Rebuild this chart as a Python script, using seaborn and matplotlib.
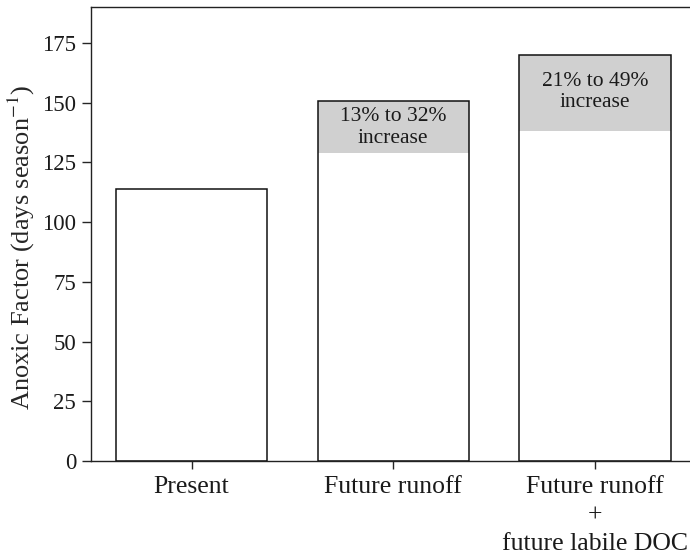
import matplotlib
matplotlib.use("Agg")
import matplotlib.pyplot as plt
import seaborn as sns

# scenarios and anoxic factor (days per season)
scenarios = ["Present", "Future runoff", "Future runoff\n+\nfuture labile DOC"]
low_values = [114, 129, 138]      # lower end of the projected range
high_values = [114, 150.5, 170]   # upper end of the projected range
range_labels = ["", "13% to 32%\nincrease", "21% to 49%\nincrease"]
y_ticks = [0, 25, 50, 75, 100, 125, 150, 175]

sns.set_style("ticks")
plt.rcParams["font.family"] = ["Liberation Serif", "DejaVu Serif"]
plt.rcParams["mathtext.fontset"] = "stix"

fig = plt.figure(figsize=(6.9, 5.57), dpi=100)
ax = fig.add_axes([0.1314, 0.1724, 0.877, 0.815])

# grey = full range, white = lower end, then outline on top
sns.barplot(x=scenarios, y=high_values, color="#d0d0d0", saturation=1,
            width=0.75, edgecolor="none", ax=ax)
sns.barplot(x=scenarios, y=low_values, color="white", saturation=1,
            width=0.75, edgecolor="none", ax=ax)
sns.barplot(x=scenarios, y=high_values, color="#111111", fill=False,
            width=0.75, linewidth=1.1, ax=ax)

for i, lab in enumerate(range_labels):
    if lab:
        ax.text(i, [0, 139.7, 154.4][i], lab, ha="center", va="center",
                fontsize=15.5, color="#1a1a1a", linespacing=1.2)

ax.set_ylim(0, 190)
ax.set_xlim(-0.5, 2.5)
ax.set_yticks(y_ticks)
ax.set_xticks(range(len(scenarios)))
ax.set_xticklabels(scenarios, linespacing=1.38)
ax.set_ylabel("Anoxic Factor (days season$^{-1}$)", fontsize=19)
ax.yaxis.set_label_coords(-0.088, 0.47)
ax.set_xlabel("")
ax.tick_params(axis="y", labelsize=16.5, length=6.5, width=1, pad=4,
               direction="out", labelcolor="#1a1a1a")
ax.tick_params(axis="x", labelsize=18.5, length=6, width=1, pad=5,
               direction="out", labelcolor="#1a1a1a")
for s in ax.spines.values():
    s.set_visible(True)
    s.set_linewidth(1.0)
    s.set_color("#222222")

fig.savefig("out.png", dpi=100)
